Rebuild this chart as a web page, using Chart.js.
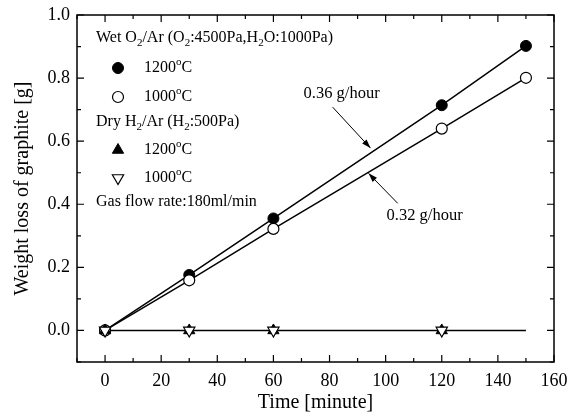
<!DOCTYPE html>
<html>
<head>
<meta charset="utf-8">
<script src="https://cdn.jsdelivr.net/npm/chart.js@4/dist/chart.umd.min.js"></script>
<style>
  html, body { margin: 0; padding: 0; background: #fff; }
  #wrap { width: 579px; height: 416px; }
</style>
</head>
<body>
<div id="wrap"><canvas id="chart" width="579" height="416"></canvas></div>
<script>
// Weight loss of graphite vs time
const times = [0, 30, 60, 120, 150];
const wet1200 = [0, 0.176, 0.355, 0.714, 0.902];
const wet1000 = [0, 0.159, 0.322, 0.640, 0.801];
const dryTimes = [0, 30, 60, 120];
const dry1200 = [0, 0, 0, 0];
const dry1000 = [0, 0, 0, 0];
const dryLineTimes = [0, 150];
const dryLine = [0, 0];

const xTicks = [0, 20, 40, 60, 80, 100, 120, 140, 160];
const yTicks = [0.0, 0.2, 0.4, 0.6, 0.8, 1.0];

// rate labels: text position and arrow (from -> to) in data units
const rateNotes = [
    { text: '0.36 g/hour', tx: 84.3, ty: 0.752, ax: 81.1, ay: 0.708, bx: 94.6, by: 0.578 },
    { text: '0.32 g/hour', tx: 113.9, ty: 0.365, ax: 104.3, ay: 0.403, bx: 93.9, by: 0.498 }
];

const FONT = '"Liberation Serif", "Times New Roman", serif';

function pts(xs, ys) {
    return xs.map((x, i) => ({ x: x, y: ys[i] }));
}

// text with sub/superscripts: segments [text, 'n'|'sub'|'sup']
function drawRich(ctx, segs, x, y, size) {
    let cx = x;
    segs.forEach(s => {
        const small = s[1] !== 'n';
        ctx.font = (small ? Math.round(size * 0.68) : size) + 'px ' + FONT;
        let dy = 0;
        if (s[1] === 'sub') dy = size * 0.3;
        if (s[1] === 'sup') dy = -size * 0.38;
        ctx.fillText(s[0], cx, y + dy);
        cx += ctx.measureText(s[0]).width;
    });
}

const decorPlugin = {
    id: 'decor',
    afterDraw(chart) {
        const ctx = chart.ctx;
        const a = chart.chartArea;
        const xs = chart.scales.x, ys = chart.scales.y;
        ctx.save();
        ctx.strokeStyle = '#000';
        ctx.fillStyle = '#000';

        // frame
        ctx.lineWidth = 1.5;
        ctx.strokeRect(a.left, a.top, a.right - a.left, a.bottom - a.top);

        // inward ticks, major and minor, on all four sides
        ctx.lineWidth = 1.2;
        ctx.beginPath();
        for (let v = -10; v <= 160; v += 10) {
            const px = xs.getPixelForValue(v);
            const len = v % 20 === 0 ? 7 : 4;
            ctx.moveTo(px, a.bottom); ctx.lineTo(px, a.bottom - len);
            ctx.moveTo(px, a.top); ctx.lineTo(px, a.top + len);
        }
        for (let k = -1; k <= 10; k++) {
            const py = ys.getPixelForValue(k / 10);
            const len = k % 2 === 0 ? 7 : 4;
            ctx.moveTo(a.left, py); ctx.lineTo(a.left + len, py);
            ctx.moveTo(a.right, py); ctx.lineTo(a.right - len, py);
        }
        ctx.stroke();

        // rate notes with arrows
        ctx.textBaseline = 'middle';
        ctx.textAlign = 'center';
        ctx.font = '16.5px ' + FONT;
        rateNotes.forEach(n => {
            ctx.fillText(n.text, xs.getPixelForValue(n.tx), ys.getPixelForValue(n.ty));
            const x1 = xs.getPixelForValue(n.ax), y1 = ys.getPixelForValue(n.ay);
            const x2 = xs.getPixelForValue(n.bx), y2 = ys.getPixelForValue(n.by);
            ctx.lineWidth = 1;
            ctx.beginPath(); ctx.moveTo(x1, y1); ctx.lineTo(x2, y2); ctx.stroke();
            const ang = Math.atan2(y2 - y1, x2 - x1);
            const hl = 9, hw = 3;
            ctx.beginPath();
            ctx.moveTo(x2, y2);
            ctx.lineTo(x2 - hl * Math.cos(ang) + hw * Math.sin(ang), y2 - hl * Math.sin(ang) - hw * Math.cos(ang));
            ctx.lineTo(x2 - hl * Math.cos(ang) - hw * Math.sin(ang), y2 - hl * Math.sin(ang) + hw * Math.cos(ang));
            ctx.closePath();
            ctx.fill();
        });

        // legend inside the plot
        ctx.textAlign = 'left';
        const lx = a.left + 19, mx = a.left + 41, tx = a.left + 67;
        const size = 16;
        drawRich(ctx, [['Wet O', 'n'], ['2', 'sub'], ['/Ar (O', 'n'], ['2', 'sub'], [':4500Pa,H', 'n'], ['2', 'sub'], ['O:1000Pa)', 'n']], lx, a.top + 23, size);
        drawRich(ctx, [['Dry H', 'n'], ['2', 'sub'], ['/Ar (H', 'n'], ['2', 'sub'], [':500Pa)', 'n']], lx, a.top + 107, size);
        drawRich(ctx, [['Gas flow rate:180ml/min', 'n']], lx, a.top + 187, size);

        const rows = [
            { y: a.top + 53, label: '1200', ds: 0 },
            { y: a.top + 82, label: '1000', ds: 1 },
            { y: a.top + 135, label: '1200', ds: 2 },
            { y: a.top + 163, label: '1000', ds: 3 }
        ];
        rows.forEach(r => {
            const d = chart.data.datasets[r.ds];
            ctx.fillStyle = d.pointBackgroundColor;
            ctx.strokeStyle = '#000';
            ctx.lineWidth = d.pointBorderWidth;
            Chart.helpers.drawPoint(ctx, {
                pointStyle: d.pointStyle,
                radius: d.pointRadius,
                rotation: d.rotation || 0,
                borderWidth: d.pointBorderWidth
            }, mx, r.y);
            ctx.fillStyle = '#000';
            drawRich(ctx, [[r.label, 'n'], ['o', 'sup'], ['C', 'n']], tx, r.y, size);
        });
        ctx.restore();
    }
};

new Chart(document.getElementById('chart'), {
    type: 'scatter',
    data: {
        datasets: [
            {
                label: 'Wet 1200',
                data: pts(times, wet1200),
                showLine: true,
                borderColor: '#000',
                borderWidth: 1.5,
                pointStyle: 'circle',
                pointRadius: 5.5,
                pointBackgroundColor: '#000',
                pointBorderColor: '#000',
                pointBorderWidth: 1,
                order: 3
            },
            {
                label: 'Wet 1000',
                data: pts(times, wet1000),
                showLine: true,
                borderColor: '#000',
                borderWidth: 1.5,
                pointStyle: 'circle',
                pointRadius: 5.5,
                pointBackgroundColor: '#fff',
                pointBorderColor: '#000',
                pointBorderWidth: 1.2,
                order: 2
            },
            {
                label: 'Dry 1200',
                data: pts(dryTimes, dry1200),
                showLine: false,
                pointStyle: 'triangle',
                pointRadius: 6.5,
                pointBackgroundColor: '#000',
                pointBorderColor: '#000',
                pointBorderWidth: 1,
                order: 1
            },
            {
                label: 'Dry 1000',
                data: pts(dryTimes, dry1000),
                showLine: false,
                pointStyle: 'triangle',
                rotation: 180,
                pointRadius: 6.5,
                pointBackgroundColor: '#fff',
                pointBorderColor: '#000',
                pointBorderWidth: 1.2,
                order: 0
            },
            {
                label: 'Dry line',
                data: pts(dryLineTimes, dryLine),
                showLine: true,
                borderColor: '#000',
                borderWidth: 1.5,
                pointRadius: 0,
                order: 4
            }
        ]
    },
    options: {
        responsive: false,
        animation: false,
        events: [],
        layout: { padding: { top: 15, right: 25, left: 0, bottom: 0 } },
        plugins: {
            legend: { display: false },
            tooltip: { enabled: false }
        },
        scales: {
            x: {
                type: 'linear',
                min: -10,
                max: 160,
                afterBuildTicks: s => { s.ticks = xTicks.map(v => ({ value: v })); },
                afterFit: s => { s.height = 54; s.paddingLeft = 0; s.paddingRight = 0; },
                grid: { display: false, drawTicks: false },
                border: { display: false },
                ticks: {
                    color: '#000',
                    padding: 8,
                    maxRotation: 0,
                    font: { family: FONT, size: 18 }
                },
                title: {
                    display: true,
                    text: 'Time [minute]',
                    color: '#000',
                    padding: { top: 0, bottom: 1 },
                    font: { family: FONT, size: 20 }
                }
            },
            y: {
                min: -0.1,
                max: 1.0,
                afterBuildTicks: s => { s.ticks = yTicks.map(v => ({ value: v })); },
                afterFit: s => { s.width = 77; s.paddingTop = 0; s.paddingBottom = 0; },
                grid: { display: false, drawTicks: false },
                border: { display: false },
                ticks: {
                    color: '#000',
                    padding: 7,
                    font: { family: FONT, size: 18 },
                    callback: v => v.toFixed(1)
                },
                title: {
                    display: true,
                    text: 'Weight loss of graphite [g]',
                    color: '#000',
                    padding: { top: 11, bottom: 0 },
                    font: { family: FONT, size: 20 }
                }
            }
        }
    },
    plugins: [decorPlugin]
});
</script>
</body>
</html>
